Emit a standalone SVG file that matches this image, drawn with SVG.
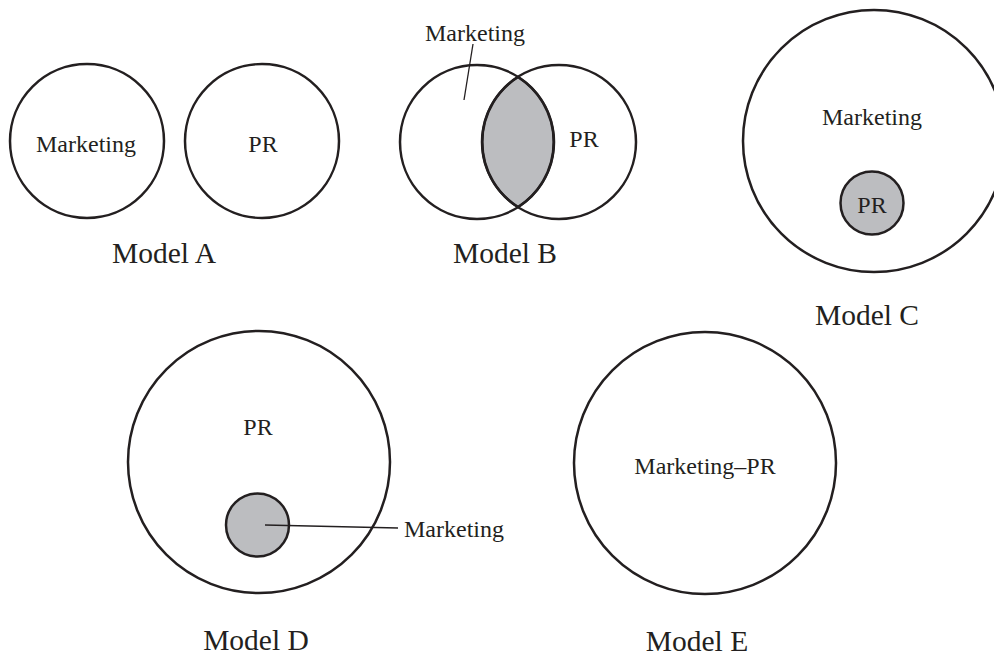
<svg xmlns="http://www.w3.org/2000/svg" width="994" height="657" viewBox="0 0 994 657">
  <style>
    .ring { fill: none; stroke: #231f20; stroke-width: 2.5; }
    .dot { fill: #bcbdc0; stroke: #231f20; stroke-width: 2.5; }
    .lead { stroke: #231f20; stroke-width: 1.3; fill: none; }
    .lbl { font-family: "Liberation Serif", "Times New Roman", serif; font-size: 24px; fill: #231f20; text-anchor: middle; }
    .cap { font-family: "Liberation Serif", "Times New Roman", serif; font-size: 29.5px; fill: #231f20; text-anchor: middle; }
  </style>
  <rect width="994" height="657" fill="#ffffff"/>

  <!-- Model A: separate circles -->
  <g id="model-a">
    <circle class="ring" cx="87" cy="141" r="77"/>
    <circle class="ring" cx="262" cy="141" r="77"/>
    <text class="lbl" x="86" y="152">Marketing</text>
    <text class="lbl" x="263" y="152">PR</text>
    <text class="cap" x="164" y="263">Model A</text>
  </g>

  <!-- Model B: overlapping circles with shaded lens -->
  <g id="model-b">
    <path class="dot" d="M518 77 A77 77 0 0 1 518 207 A77 77 0 0 1 518 77 Z" stroke-width="2.7"/>
    <circle class="ring" cx="477" cy="142" r="77"/>
    <circle class="ring" cx="559" cy="142" r="77"/>
    <text class="lbl" x="475" y="41">Marketing</text>
    <text class="lbl" x="584" y="147">PR</text>
    <text class="cap" x="505" y="263">Model B</text>
  </g>

  <!-- Model C: PR inside marketing -->
  <g id="model-c">
    <circle class="ring" cx="874" cy="141" r="131"/>
    <circle class="dot" cx="872" cy="203" r="31.5"/>
    <text class="lbl" x="872" y="125">Marketing</text>
    <text class="lbl" x="872" y="213">PR</text>
    <text class="cap" x="867" y="325">Model C</text>
  </g>

  <!-- Model D: marketing inside PR -->
  <g id="model-d">
    <circle class="ring" cx="259" cy="462" r="131"/>
    <circle class="dot" cx="257.5" cy="525" r="31.5"/>
    <text class="lbl" x="258" y="435">PR</text>
    <text class="lbl" x="454" y="537">Marketing</text>
    <text class="cap" x="256" y="650">Model D</text>
  </g>

  <!-- Model E: single merged function -->
  <g id="model-e">
    <circle class="ring" cx="705" cy="463" r="131"/>
    <text class="lbl" x="705" y="474">Marketing–PR</text>
    <text class="cap" x="697" y="651">Model E</text>
  </g>

  <!-- leader lines -->
  <g id="connectors">
    <line class="lead" x1="473" y1="44" x2="464" y2="100"/>
    <line class="lead" x1="265" y1="525" x2="398" y2="528"/>
  </g>
</svg>
